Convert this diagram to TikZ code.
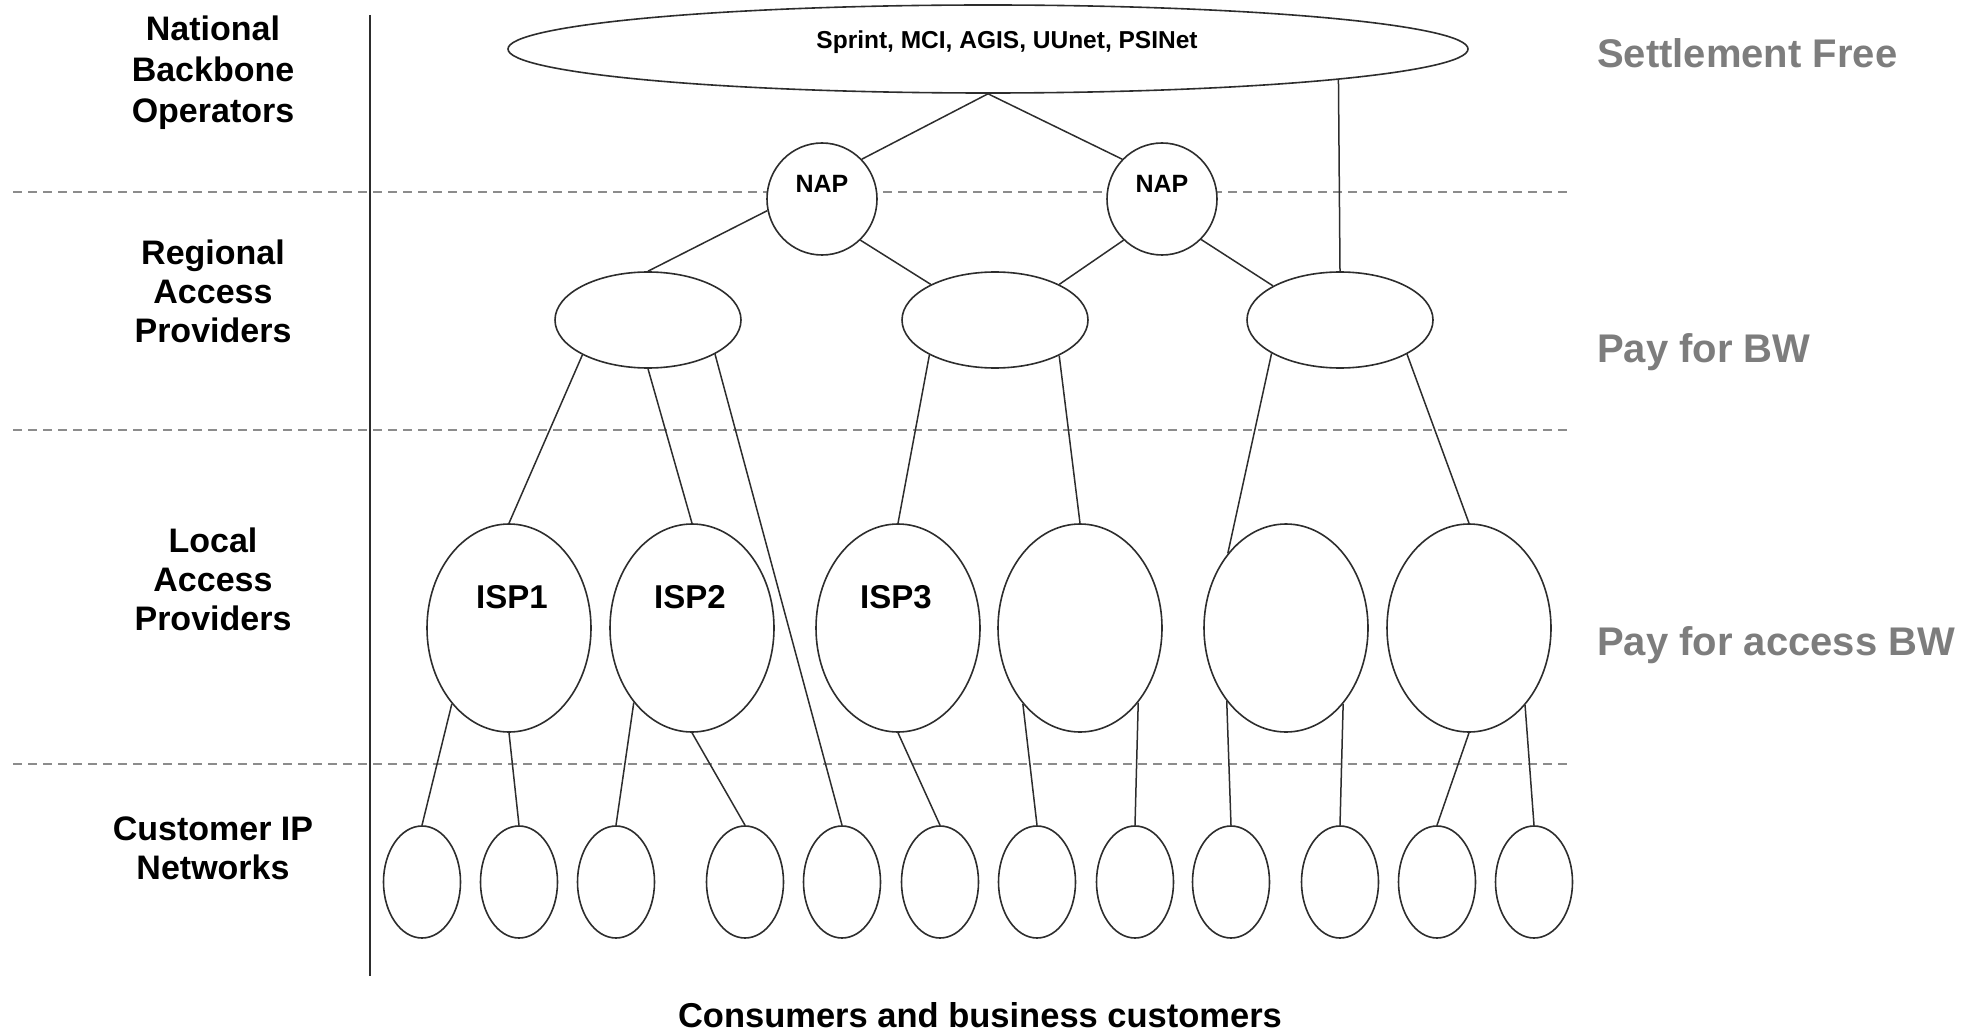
\documentclass[tikz,border=0pt]{standalone}
\usepackage{fontspec}
\setmainfont{Liberation Sans}
\usetikzlibrary{shapes.geometric}
\definecolor{linec}{RGB}{45,45,45}
\definecolor{dashc}{RGB}{140,140,140}
\definecolor{notec}{RGB}{125,125,125}
\begin{document}
\begin{tikzpicture}[x=1pt,y=-1pt,
  oval/.style={ellipse,draw=linec,line width=1.6pt,fill=white,inner sep=0pt},
  topoval/.style={oval,minimum width=960pt,minimum height=88pt},
  napoval/.style={oval,minimum width=110pt,minimum height=112pt},
  regoval/.style={oval,minimum width=186pt,minimum height=96pt},
  locoval/.style={oval,minimum width=164pt,minimum height=208pt},
  custoval/.style={oval,minimum width=77pt,minimum height=112pt},
  link/.style={draw=linec,line width=1.5pt},
  sep/.style={draw=dashc,line width=2.5pt,dash pattern=on 9pt off 6pt},
  axis/.style={draw=linec,line width=2pt},
  tier/.style={font=\fontsize{34}{39}\selectfont\bfseries,align=center,anchor=north,inner sep=0pt},
  note/.style={font=\fontsize{40}{48}\selectfont\bfseries,text=notec,anchor=base west,inner sep=0pt},
  isplabel/.style={font=\fontsize{33}{40}\selectfont\bfseries,inner sep=0pt},
  naplabel/.style={font=\fontsize{25}{30}\selectfont\bfseries,inner sep=0pt},
  toplabel/.style={font=\fontsize{24.5}{30}\selectfont\bfseries,inner sep=0pt},
]
\useasboundingbox (0,0) rectangle (1977,1032);

% separators
\coordinate (s1a) at (13,192);  \coordinate (s1b) at (1568,192);
\coordinate (s2a) at (13,430);  \coordinate (s2b) at (1568,430);
\coordinate (s3a) at (13,764);  \coordinate (s3b) at (1568,764);
\draw[sep] (s1a) -- (s1b);
\draw[sep] (s2a) -- (s2b);
\draw[sep] (s3a) -- (s3b);

% vertical axis
\coordinate (va) at (370,15);
\coordinate (vb) at (370,976);
\draw[axis] (va) -- (vb);

% tier labels
\node[tier,font=\fontsize{34}{41}\selectfont\bfseries] (tnat) at (213,16) {National\\Backbone\\Operators};
\node[tier] (treg) at (213,240) {Regional\\Access\\Providers};
\node[tier] (tloc) at (213,528) {Local\\Access\\Providers};
\node[tier] (tcus) at (213,817) {Customer IP\\Networks};

% notes
\node[note] (n1) at (1597,68) {Settlement Free};
\node[note] (n2) at (1597,362) {Pay for BW};
\node[note] (n3) at (1597,655) {Pay for access BW};

% nodes
\node[topoval] (top) at (988,49) {};
\node[toplabel] (topt) at (1007,42) {Sprint, MCI, AGIS, UUnet, PSINet};

\node[napoval] (nap1) at (822,199) {};
\node[napoval] (nap2) at (1162,199) {};
\node[naplabel] (nap1t) at (822,184) {NAP};
\node[naplabel] (nap2t) at (1162,184) {NAP};

\node[regoval] (r1) at (648,320) {};
\node[regoval] (r2) at (995,320) {};
\node[regoval] (r3) at (1340,320) {};

\node[locoval] (isp1) at (509,628) {};
\node[locoval] (isp2) at (692,628) {};
\node[locoval] (isp3) at (898,628) {};
\node[locoval] (l4) at (1080,628) {};
\node[locoval] (l5) at (1286,628) {};
\node[locoval] (l6) at (1469,628) {};
\node[isplabel] (isp1t) at (512,597) {ISP1};
\node[isplabel] (isp2t) at (690,597) {ISP2};
\node[isplabel] (isp3t) at (896,597) {ISP3};

\foreach \n/\x in {c1/422,c2/519,c3/616,c4/745,c5/842,c6/940,c7/1037,c8/1135,c9/1231,c10/1340,c11/1437,c12/1534}
  \node[custoval] (\n) at (\x,882) {};

% connectors
\draw[link] (top.south) -- (nap1.45);
\draw[link] (top.south) -- (nap2.135);
\draw[link] (top.-5.5) -- (r3.north);
\draw[link] (nap1.192) -- (r1.north);
\draw[link] (nap1.-47) -- (r2.151);
\draw[link] (nap2.227) -- (r2.29);
\draw[link] (nap2.-46) -- (r3.153);
\draw[link] (r1.208) -- (isp1.north);
\draw[link] (r1.south) -- (isp2.north);
\draw[link] (r1.-27) -- (c5.north);
\draw[link] (r2.208) -- (isp3.north);
\draw[link] (r2.-29) -- (l4.north);
\draw[link] (r3.206) -- (l5.128);
\draw[link] (r3.-27) -- (l6.north);
\draw[link] (isp1.233) -- (c1.north);
\draw[link] (isp1.south) -- (c2.north);
\draw[link] (isp2.232) -- (c3.north);
\draw[link] (isp2.south) -- (c4.north);
\draw[link] (isp3.south) -- (c6.north);
\draw[link] (l4.233) -- (c7.north);
\draw[link] (l4.-52) -- (c8.north);
\draw[link] (l5.231) -- (c9.north);
\draw[link] (l5.-53) -- (c10.north);
\draw[link] (l6.south) -- (c11.north);
\draw[link] (l6.-54) -- (c12.north);

% caption
\node[font=\fontsize{34.5}{40}\selectfont\bfseries,anchor=base,inner sep=0pt] (cap) at (980,1027) {Consumers and business customers};
\end{tikzpicture}
\end{document}
